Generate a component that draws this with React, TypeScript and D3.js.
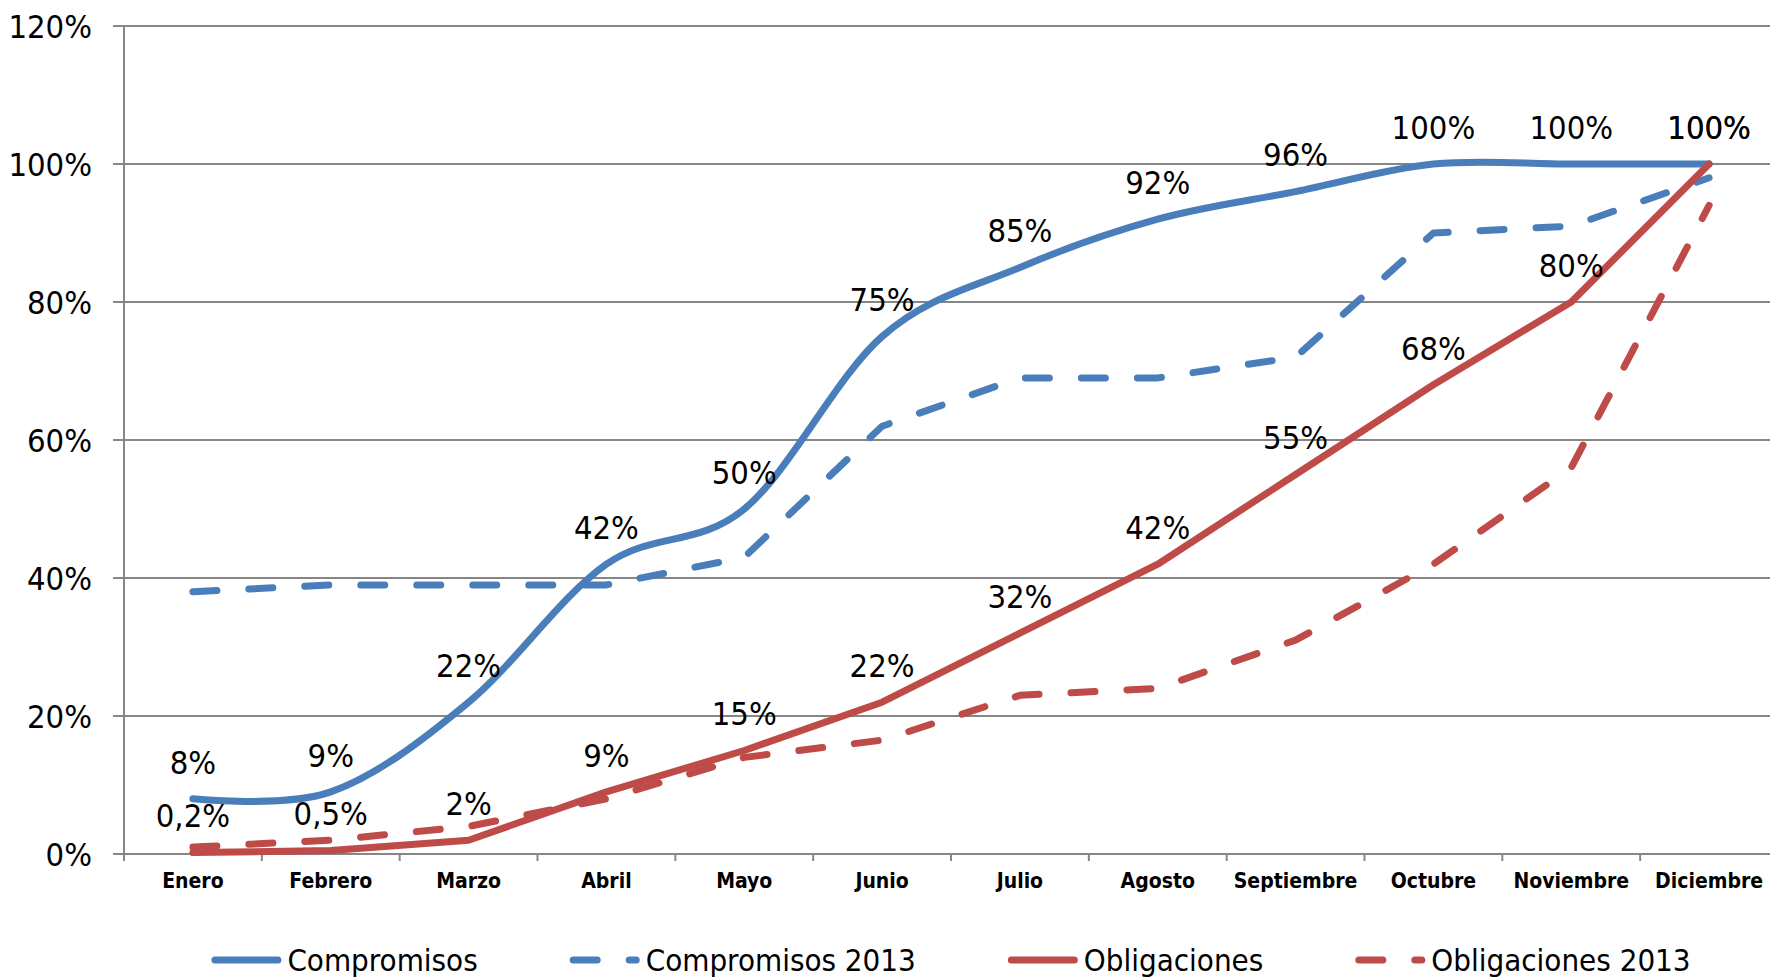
import React, { useEffect, useRef } from 'react';
import * as d3 from 'd3';

const months = ['Enero', 'Febrero', 'Marzo', 'Abril', 'Mayo', 'Junio', 'Julio', 'Agosto', 'Septiembre', 'Octubre', 'Noviembre', 'Diciembre'];
const compromisos = [8, 9, 22, 42, 50, 75, 85, 92, 96, 100, 100, 100];
const compromisos2013 = [38, 39, 39, 39, 43, 62, 69, 69, 72, 90, 91, 98];
const obligaciones = [0.2, 0.5, 2, 9, 15, 22, 32, 42, 55, 68, 80, 100];
const obligaciones2013 = [1, 2, 4, 8, 14, 16.5, 23, 24, 31, 42, 56, 94];
const yTicks = [0, 20, 40, 60, 80, 100, 120];
const seriesNames = ['Compromisos', 'Compromisos 2013', 'Obligaciones', 'Obligaciones 2013'];

const BLUE = '#4A7EBB';
const RED = '#BE4B48';
const GRID = '#868686';
const FONT = "'DejaVu Sans Condensed', 'DejaVu Sans', sans-serif";

// 0,2% style labels (comma decimal)
const pct = (v: number) => String(v).replace('.', ',') + '%';

export default function App() {
    const svgRef = useRef<SVGSVGElement>(null);
    const width = 1770;
    const height = 978;

    useEffect(() => {
        if (!svgRef.current) return;
        const svg = d3.select(svgRef.current);
        svg.selectAll('*').remove();

        const left = 124, right = 1778, top = 26, bottom = 854;

        const x = d3.scaleBand<string>().domain(months).range([left, right]);
        const cx = (m: string) => (x(m) as number) + x.bandwidth() / 2;
        const y = d3.scaleLinear().domain([0, 120]).range([bottom, top]);

        // gridlines + y labels
        const grid = svg.append('g');
        yTicks.forEach(t => {
            grid.append('line')
                .attr('x1', left - 11).attr('x2', right)
                .attr('y1', y(t)).attr('y2', y(t))
                .attr('stroke', GRID).attr('stroke-width', 2);
            grid.append('text')
                .attr('x', 92).attr('y', y(t) + 11.8)
                .attr('text-anchor', 'end')
                .style('font-family', FONT).style('font-stretch', 'condensed')
                .style('font-size', '32.5px').attr('fill', '#000')
                .text(t + '%');
        });

        // y axis line
        svg.append('line')
            .attr('x1', left).attr('x2', left)
            .attr('y1', top).attr('y2', bottom + 7)
            .attr('stroke', GRID).attr('stroke-width', 2);

        // x axis ticks at band edges
        d3.range(months.length + 1).forEach(i => {
            const xx = left + i * x.bandwidth();
            svg.append('line')
                .attr('x1', xx).attr('x2', xx)
                .attr('y1', bottom).attr('y2', bottom + 7)
                .attr('stroke', GRID).attr('stroke-width', 2);
        });

        svg.append('g').selectAll('text')
            .data(months)
            .join('text')
            .attr('x', d => cx(d))
            .attr('y', 888)
            .attr('text-anchor', 'middle')
            .style('font-family', FONT).style('font-stretch', 'condensed')
            .style('font-size', '21px').style('font-weight', 'bold')
            .attr('fill', '#000')
            .text(d => d);

        const smooth = d3.line<number>()
            .x((_, i) => cx(months[i]))
            .y(d => y(d))
            .curve(d3.curveCatmullRom.alpha(0));
        const straight = d3.line<number>()
            .x((_, i) => cx(months[i]))
            .y(d => y(d));

        const series = [
            { values: compromisos, color: BLUE, dashed: false, gen: smooth },
            { values: compromisos2013, color: BLUE, dashed: true, gen: straight },
            { values: obligaciones, color: RED, dashed: false, gen: straight },
            { values: obligaciones2013, color: RED, dashed: true, gen: straight },
        ];

        series.forEach(s => {
            svg.append('path')
                .datum(s.values)
                .attr('fill', 'none')
                .attr('stroke', s.color)
                .attr('stroke-width', 7)
                .attr('stroke-linecap', 'round')
                .attr('stroke-linejoin', 'round')
                .attr('stroke-dasharray', s.dashed ? '24 32' : null)
                .attr('d', s.gen);
        });

        // data labels
        [compromisos, obligaciones].forEach(vals => {
            svg.append('g').selectAll('text')
                .data(vals)
                .join('text')
                .attr('x', (_, i) => cx(months[i]))
                .attr('y', d => y(d) - 25.2)
                .attr('text-anchor', 'middle')
                .style('font-family', FONT).style('font-stretch', 'condensed')
                .style('font-size', '32.5px')
                .attr('fill', '#000')
                .text(d => pct(d));
        });

        // legend
        const legend = svg.append('g');
        const sample = 70, textGap = 6, entryGap = 92;
        const items: { g: any; w: number }[] = [];
        series.forEach((s, i) => {
            const g = legend.append('g');
            g.append('line')
                .attr('x1', 3.5).attr('x2', sample - 3.5)
                .attr('y1', 960).attr('y2', 960)
                .attr('stroke', s.color).attr('stroke-width', 7)
                .attr('stroke-linecap', 'round')
                .attr('stroke-dasharray', s.dashed ? '24 32' : null);
            const t = g.append('text')
                .attr('x', sample + textGap).attr('y', 971)
                .style('font-family', FONT).style('font-stretch', 'condensed')
                .style('font-size', '31px').attr('fill', '#000')
                .text(seriesNames[i]);
            const w = sample + textGap + (t.node() as SVGTextElement).getComputedTextLength();
            items.push({ g, w });
        });
        const total = d3.sum(items, d => d.w) + entryGap * (items.length - 1);
        let cursor = (left + right) / 2 - total / 2;
        items.forEach(it => {
            it.g.attr('transform', `translate(${cursor},0)`);
            cursor += it.w + entryGap;
        });
    }, []);

    return (
        <svg
            ref={svgRef}
            width={width}
            height={height}
            style={{ position: 'absolute', left: 0, top: 0, background: '#fff' }}
        />
    );
}
